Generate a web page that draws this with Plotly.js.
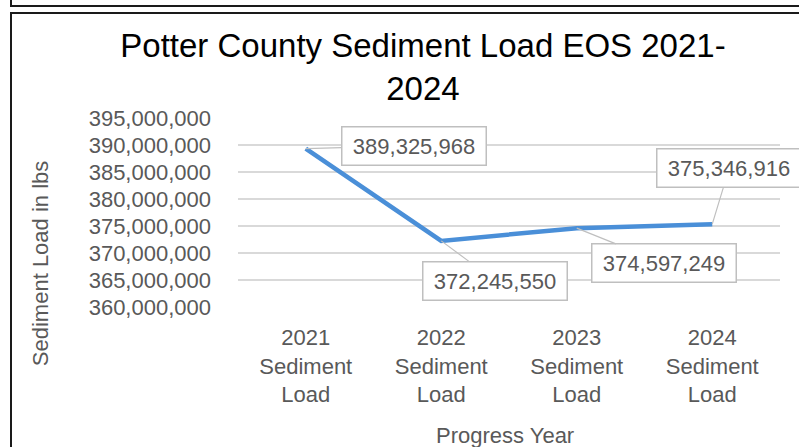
<!DOCTYPE html>
<html>
<head>
<meta charset="utf-8">
<script src="https://cdn.plot.ly/plotly-3.0.1.min.js"></script>
<style>
html,body{margin:0;padding:0;background:#fff;overflow:hidden;}
#wrap{position:relative;width:799px;height:447px;overflow:hidden;}
#chart{position:absolute;left:0;top:0;width:799px;height:447px;}
.bx{position:absolute;border:2px solid #1a1a1a;pointer-events:none;z-index:5;}
</style>
</head>
<body>
<div id="wrap">
<div id="chart"></div>
<div class="bx" style="left:10px;top:-30px;width:900px;height:33px;"></div>
<div class="bx" style="left:10px;top:12px;width:900px;height:500px;"></div>
</div>
<script>
const categories = ["2021<br>Sediment<br>Load","2022<br>Sediment<br>Load","2023<br>Sediment<br>Load","2024<br>Sediment<br>Load"];
const sedimentLoad = [389325968, 372245550, 374597249, 375346916];
const labelText = ["389,325,968","372,245,550","374,597,249","375,346,916"];
const yTickVals = [360000000,365000000,370000000,375000000,380000000,385000000,390000000,395000000];
const yTickText = ["360,000,000","365,000,000","370,000,000","375,000,000","380,000,000","385,000,000","390,000,000","395,000,000"];

const labelOffsets = [[108,-3],[54,40],[87,35],[17,-56]];

const FONT = "Liberation Sans, Arial, sans-serif";
const GRAY = "#595959";

const annotations = sedimentLoad.map((v,i)=>({
  x: i, y: v, xref:'x', yref:'y',
  text: labelText[i], showarrow:true, arrowhead:0, arrowwidth:1.2, arrowcolor:'#bfbfbf',
  ax: labelOffsets[i][0], ay: labelOffsets[i][1], standoff:0,
  bgcolor:'#ffffff', bordercolor:'#bfbfbf', borderwidth:1.5, borderpad:0,
  width:143, height:37,
  font:{family:FONT, size:22, color:GRAY}
}));
annotations.push({
  text:'Sediment Load in lbs', xref:'paper', yref:'paper', x:-0.365, y:0.2275,
  textangle:-90, showarrow:false, xanchor:'center', yanchor:'middle',
  font:{family:FONT, size:22, color:GRAY}
});
annotations.push({
  text:'Progress Year', xref:'paper', yref:'paper', x:0.4926, y:-0.6825,
  showarrow:false, xanchor:'center', yanchor:'middle',
  font:{family:FONT, size:22, color:GRAY}
});

const trace = {
  x: categories, y: sedimentLoad, type:'scatter', mode:'lines',
  line:{color:'#4a8fd8', width:4.5}, hoverinfo:'none'
};

const layout = {
  width:799, height:447,
  margin:{l:238, r:19, t:118, b:140},
  paper_bgcolor:'#ffffff', plot_bgcolor:'#ffffff',
  showlegend:false,
  title:{text:'Potter County Sediment Load EOS 2021-<br>2024', xref:'container', yref:'container',
    x:0.5294, xanchor:'center', y:0.873, yanchor:'top',
    font:{family:FONT, size:33, color:'#000000'}},
  xaxis:{type:'category', range:[-0.5,3.5], autorange:false, showgrid:false, zeroline:false, showline:false, ticks:'',
    tickfont:{family:FONT, size:22, color:GRAY}, ticklabelstandoff:15, fixedrange:true},
  yaxis:{range:[360000000,395000000], autorange:false, tickvals:yTickVals, ticktext:yTickText,
    showgrid:true, gridcolor:'#d9d9d9', gridwidth:1.2, zeroline:false, showline:false, ticks:'',
    tickfont:{family:FONT, size:22, color:GRAY}, ticklabelstandoff:26, fixedrange:true},
  annotations: annotations
};

Plotly.newPlot('chart',[trace],layout,{displayModeBar:false, staticPlot:true});
</script>
</body>
</html>
